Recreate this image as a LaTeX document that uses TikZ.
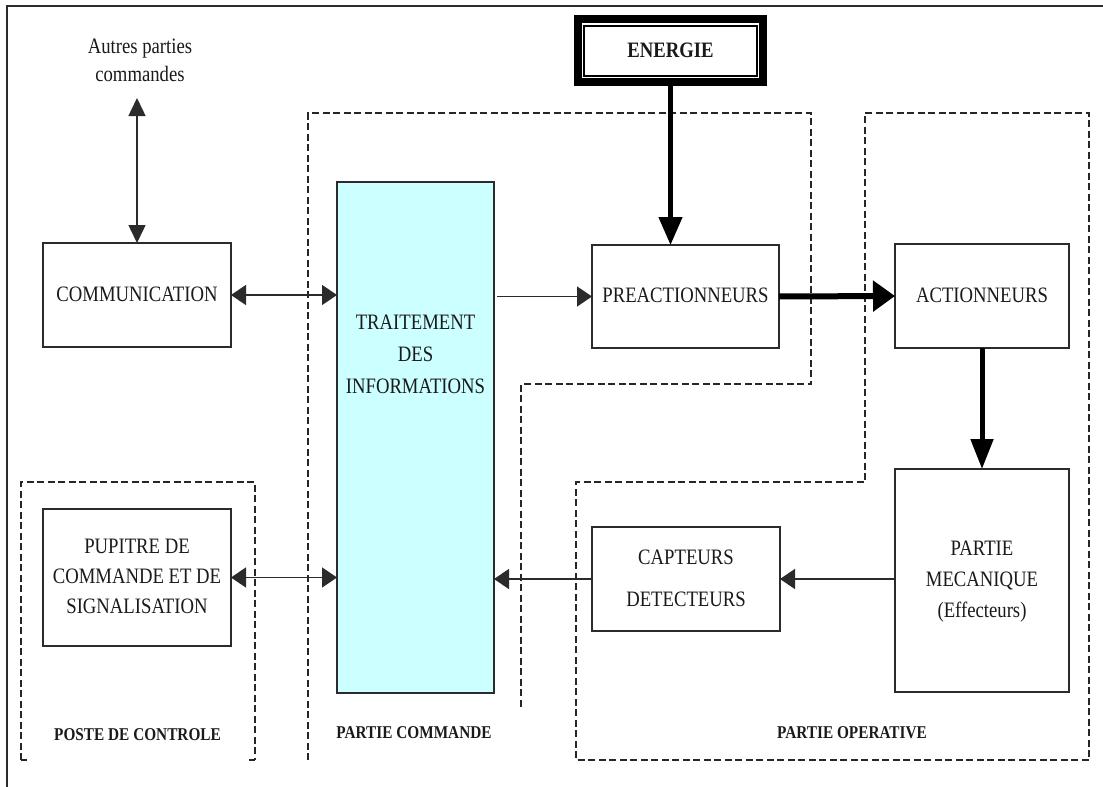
\documentclass[tikz,border=0pt]{standalone}
\usepackage{fontspec}
\setmainfont{Liberation Serif}
\usepackage{graphicx}
\usetikzlibrary{arrows.meta}

\definecolor{ink}{HTML}{1A1A1A}
\definecolor{edge}{HTML}{2B2B2B}
\definecolor{infofill}{HTML}{CCFFFF}

% condensed text, one or several centred lines
\newcommand\narrow[1]{\scalebox{0.85}[1]{#1}}
\newcommand\lines[1]{\narrow{\begin{tabular}{@{}c@{}}#1\end{tabular}}}

\tikzset{
  box/.style={draw=edge, line width=1.3pt, fill=white, inner sep=0pt, outer sep=0pt,
              text=ink, font=\fontsize{22}{30}\selectfont},
  txt/.style={inner sep=0pt, text=ink, font=\fontsize{22}{30}\selectfont},
  sect/.style={inner sep=0pt, text=ink, font=\fontsize{18}{22}\selectfont\bfseries},
  region/.style={draw=black!85, line width=1.3pt, dash pattern=on 7pt off 3.5pt},
  thinarrow/.style={draw=edge, line width=1.5pt, -{Triangle[length=15pt,width=20pt]}},
  thinboth/.style={draw=edge, line width=1.5pt,
                   {Triangle[length=15pt,width=20pt]}-{Triangle[length=15pt,width=20pt]}},
  heavyarrow/.style={draw=black, line width=5pt, -{Triangle[length=26pt,width=24pt]}},
}

\begin{document}
\begin{tikzpicture}[x=1pt, y=-1pt]
\useasboundingbox (0,0) rectangle (1103,787);

% page frame
\draw[draw=edge, line width=1.5pt] (7,787) -- (7,6) -- (1103,6);

% dashed zones
\draw[region] (21,760) -- (21,482) -- (255,482) -- (255,760);
\draw[region, dash pattern=] (21,760) -- (27,760) (249,760) -- (255,760);
\draw[region] (308,760) -- (308,113) -- (811,113) -- (811,384) -- (521,384) -- (521,708);
\draw[region] (865,113) -- (1089,113) -- (1089,760) -- (576,760) -- (576,482) -- (865,482) -- cycle;

% zone titles
\node[sect] (lblposte) at (137.5,735) {\narrow{POSTE DE CONTROLE}};
\node[sect] (lblcommande) at (414,733) {\narrow{PARTIE COMMANDE}};
\node[sect] (lbloperative) at (852,733) {\narrow{PARTIE OPERATIVE}};

% energy source
\node[draw=black, line width=8pt, fill=white, inner sep=0pt,
      minimum width=185pt, minimum height=63pt,
      text=ink, font=\fontsize{22}{26}\selectfont\bfseries] (energie) at (670.5,50.5) {\narrow{ENERGIE}};
\draw[draw=black, line width=1.2pt]
  ([shift={(10pt,-11pt)}]energie.north west) rectangle ([shift={(-10pt,10pt)}]energie.south east);

% blocks
\node[txt] (autres) at (140,61) {\lines{Autres parties\\[-2pt]commandes}};
\coordinate (autresend) at (137,98);

\node[box, minimum width=188pt, minimum height=104pt] (comm) at (137,295) {\lines{COMMUNICATION}};
\node[box, minimum width=188pt, minimum height=137pt] (pupitre) at (137,577.5)
  {\lines{PUPITRE DE\\COMMANDE ET DE\\SIGNALISATION}};
\node[box, fill=infofill, minimum width=157pt, minimum height=511pt] (trait) at (415.5,437.5) {};
\node[txt] (traittext) at (415.5,355) {\lines{TRAITEMENT\\[2pt]DES\\[2pt]INFORMATIONS}};
\node[box, minimum width=187pt, minimum height=103pt] (prea) at (685.5,296.5) {\lines{PREACTIONNEURS}};
\node[box, minimum width=174pt, minimum height=104pt] (action) at (982,296) {\lines{ACTIONNEURS}};
\node[box, minimum width=174pt, minimum height=223pt] (meca) at (982,580.5)
  {\lines{PARTIE\\[1pt]MECANIQUE\\[1pt](Effecteurs)}};
\node[box, minimum width=188pt, minimum height=104pt] (capt) at (686,579)
  {\lines{CAPTEURS\\[12pt]DETECTEURS}};

% information links
\draw[draw=edge, line width=1.5pt,
      {Triangle[length=18pt,width=17pt]}-{Triangle[length=18pt,width=17pt]}] (autresend) -- (comm.north);
\draw[thinboth] (comm.east) -- (comm.east -| trait.west);
\draw[thinboth] (pupitre.east) -- (pupitre.east -| trait.west);
\draw[thinarrow] ([xshift=3pt]prea.west -| trait.east) -- (prea.west);
\draw[thinarrow] (capt.west) -- (capt.west -| trait.east);
\draw[thinarrow] (capt.east -| meca.west) -- (capt.east);

% power links
\draw[heavyarrow, line width=4.5pt, -{Triangle[length=28pt,width=23pt]}] (energie.south) -- (energie.south |- prea.north);
\draw[heavyarrow, line width=6pt, -{Triangle[length=22pt,width=30pt]}] (prea.east) -- (action.west);
\draw[heavyarrow, -{Triangle[length=30pt,width=22pt]}] (action.south) -- (meca.north);

\end{tikzpicture}
\end{document}
